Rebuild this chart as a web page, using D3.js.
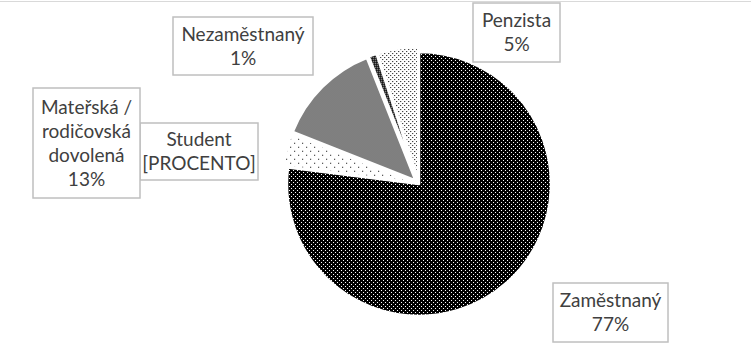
<!DOCTYPE html>
<html>
<head>
<meta charset="utf-8">
<script src="https://cdn.jsdelivr.net/npm/d3@7"></script>
<style>
  html, body { margin: 0; padding: 0; background: #fff; }
  svg { display: block; }
</style>
</head>
<body>
<main></main>
<script>
// Slice data, clockwise from 12 o'clock
const categories = ["Zaměstnaný", "Student", "Mateřská / rodičovská dovolená", "Nezaměstnaný", "Penzista"];
const values = [77, 4, 13, 1, 5];
const labelLines = [
  ["Zaměstnaný", "77%"],
  ["Student", "[PROCENTO]"],
  ["Mateřská /", "rodičovská", "dovolená", "13%"],
  ["Nezaměstnaný", "1%"],
  ["Penzista", "5%"],
];
const patternIds = ["pDark", "pStud", "pMat", "pNez", "pPenz"];

const width = 751, height = 357;
const cx = 419, cy = 184, radius = 132;

// label boxes (x, y, w, h) in the same order as categories
const boxes = [
  [553, 283, 115, 59],
  [140, 123, 118, 57],
  [33, 88, 107, 110],
  [173, 17, 140, 58],
  [473, 3, 87, 59],
];

const svg = d3
  .create("svg")
  .attr("width", width)
  .attr("height", height)
  .style("background", "white");

const defs = svg.append("defs");

// Build a small pixel pattern: background colour plus a list of 1px dots.
function pixelPattern(id, size, bg, fg, dots) {
  const p = defs
    .append("pattern")
    .attr("id", id)
    .attr("patternUnits", "userSpaceOnUse")
    .attr("width", size)
    .attr("height", size);
  p.append("rect").attr("width", size).attr("height", size).attr("fill", bg);
  p.selectAll("rect.dot")
    .data(dots)
    .join("rect")
    .attr("class", "dot")
    .attr("x", (d) => d[0])
    .attr("y", (d) => d[1])
    .attr("width", 1)
    .attr("height", 1)
    .attr("fill", fg);
}

pixelPattern("pDark", 4, "#000", "#fff", [[0, 0], [2, 2]]);
pixelPattern("pPenz", 4, "#fff", "#000", [[0, 0], [2, 2]]);
pixelPattern("pStud", 8, "#fff", "#000", [[0, 0], [4, 4]]);
pixelPattern("pMat", 2, "#fff", "#000", [[0, 0], [1, 1]]);
pixelPattern("pNez", 2, "#000", "#fff", [[0, 0]]);

// faint frame line at the top
svg
  .append("line")
  .attr("x1", 0)
  .attr("x2", width)
  .attr("y1", 1.5)
  .attr("y2", 1.5)
  .attr("stroke", "#d9d9d9")
  .attr("stroke-width", 1);

const pie = d3.pie().sort(null).value((d) => d);
const arcs = pie(values);
const arc = d3.arc().innerRadius(0).outerRadius(radius);

// small slices are pulled out a little from the centre
const explode = (i) => (i === 0 ? 0 : 5);

svg
  .append("g")
  .attr("transform", `translate(${cx},${cy})`)
  .selectAll("path")
  .data(arcs)
  .join("path")
  .attr("transform", (d, i) => {
    const a = (d.startAngle + d.endAngle) / 2;
    const e = explode(i);
    return `translate(${Math.sin(a) * e},${-Math.cos(a) * e})`;
  })
  .attr("d", arc)
  .attr("fill", (d, i) => `url(#${patternIds[i]})`)
  .attr("stroke", "#fff")
  .attr("stroke-width", 2.5)
  .attr("stroke-linejoin", "round");

// Data labels in grey boxes
const lineH = 24;
const labels = svg
  .append("g")
  .selectAll("g")
  .data(categories)
  .join("g");

labels
  .append("rect")
  .attr("x", (d, i) => boxes[i][0])
  .attr("y", (d, i) => boxes[i][1])
  .attr("width", (d, i) => boxes[i][2])
  .attr("height", (d, i) => boxes[i][3])
  .attr("fill", "#fff")
  .attr("stroke", "#bfbfbf")
  .attr("stroke-width", 1.5);

labels
  .append("text")
  .attr("font-family", "Lato, 'Open Sans', sans-serif")
  .attr("font-size", 19)
  .attr("fill", "#404040")
  .attr("text-anchor", "middle")
  .each(function (d, i) {
    const [x, y, w, h] = boxes[i];
    const lines = labelLines[i];
    const top = y + h / 2 - ((lines.length - 1) * lineH) / 2;
    d3.select(this)
      .selectAll("tspan")
      .data(lines)
      .join("tspan")
      .attr("x", x + w / 2)
      .attr("y", (t, j) => top + j * lineH)
      .attr("dy", "0.35em")
      .text((t) => t);
  });

document.querySelector("main").append(svg.node());
</script>
</body>
</html>
